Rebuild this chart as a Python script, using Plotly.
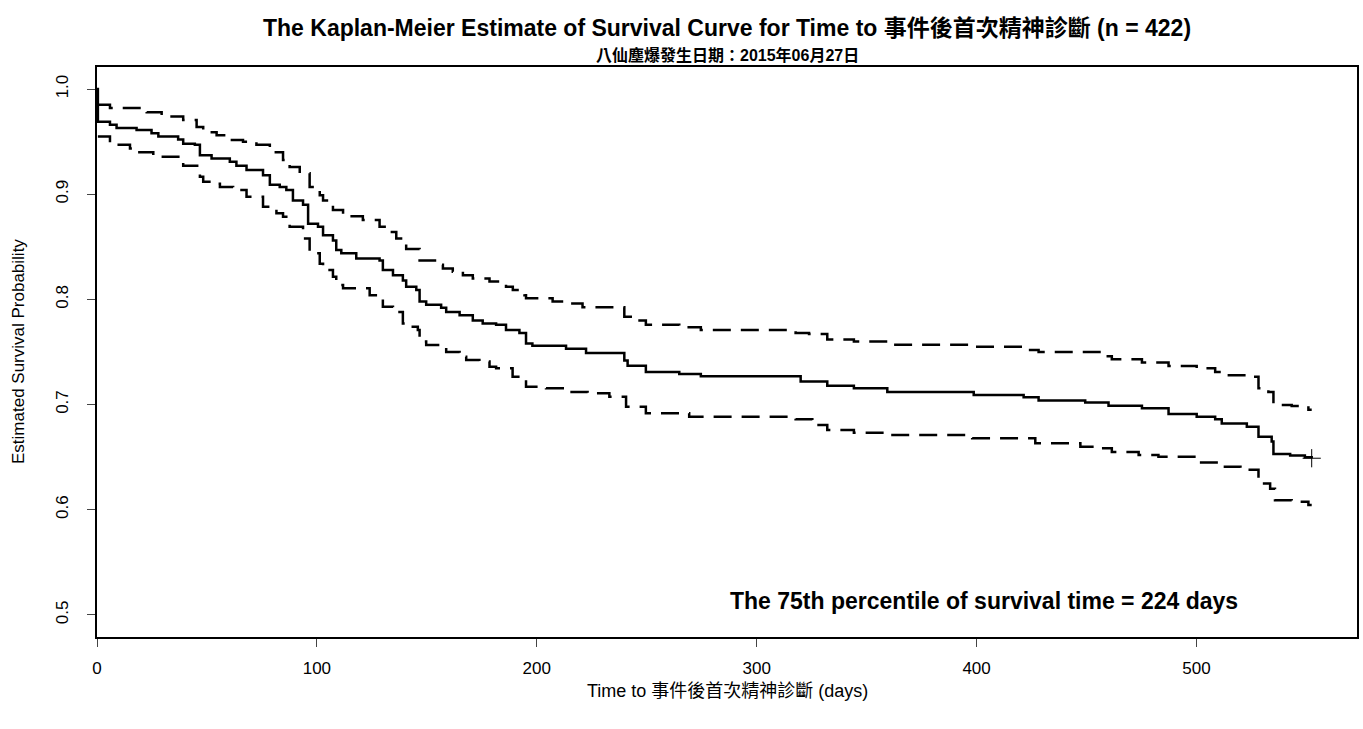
import plotly.graph_objects as go

# Kaplan-Meier estimate (step starts)
km_time = [0, 0.4, 5.9, 8.9, 18, 24.8, 27.9, 36.9, 39.2, 44.5, 46.8, 52.1, 60.4, 63.4, 68, 75.5, 78.6, 83.1, 86.1, 89.1,
           93.7, 96, 100.5, 102.8, 107.3, 108.8, 111.1, 117.9, 128.5, 130, 134.6, 139.1, 140.6, 145.2, 146.7, 149.7,
           156.5, 158.8, 164.9, 170.9, 175.4, 181.5, 186, 192.1, 195.1, 198, 213.3, 222.4, 239.8, 241.3, 249.6, 264.8,
           274.6, 320, 332.1, 344.2, 359.4, 398.7, 421.4, 428.2, 449.4, 460, 475.2, 487.3, 500.1, 508.5, 511.5, 522.9,
           528.2, 534.2, 535, 542.6, 549.3, 552.4]
km_surv = [1.0, 0.969, 0.966, 0.963, 0.961, 0.958, 0.955, 0.952, 0.948, 0.947, 0.937, 0.934, 0.931, 0.927, 0.923, 0.918,
           0.909, 0.907, 0.904, 0.894, 0.890, 0.872, 0.869, 0.861, 0.856, 0.847, 0.844, 0.839, 0.837, 0.828, 0.823,
           0.818, 0.812, 0.809, 0.798, 0.795, 0.792, 0.788, 0.785, 0.780, 0.777, 0.776, 0.771, 0.768, 0.758, 0.756,
           0.753, 0.749, 0.742, 0.737, 0.731, 0.729, 0.727, 0.722, 0.718, 0.7155, 0.712, 0.709, 0.707, 0.704, 0.702,
           0.699, 0.6965, 0.691, 0.6885, 0.686, 0.682, 0.679, 0.6695, 0.665, 0.653, 0.6515, 0.650, 0.649]

# Upper 95% confidence limit
upper_time = [0.4, 5.9, 22.6, 29.4, 39.2, 45.3, 48.3, 54.4, 60.4, 66.4, 72.5, 78.6, 84.6, 87.6, 92.2, 96.7, 101.3,
              102.8, 107.3, 111.9, 120.9, 128.5, 131.6, 136.1, 140.6, 146.7, 154.3, 157.3, 161.8, 166.4, 170.9, 178.5,
              186, 189.1, 194.4, 195.1, 207.2, 213.3, 220.8, 239.8, 245.8, 249.6, 264.8, 274.6, 317.7, 323.8, 332.1,
              344.2, 359.4, 398, 420.7, 428.2, 457, 461.5, 475.2, 487.3, 500.1, 508.5, 511.5, 522.9, 528.2, 532.7,
              535, 543.3, 550.9, 552.4]
upper_surv = [0.985, 0.982, 0.978, 0.974, 0.9705, 0.964, 0.959, 0.956, 0.9515, 0.950, 0.947, 0.940, 0.9325, 0.926,
              0.920, 0.907, 0.899, 0.894, 0.885, 0.879, 0.8755, 0.869, 0.864, 0.858, 0.848, 0.837, 0.833, 0.8295,
              0.8263, 0.823, 0.820, 0.817, 0.812, 0.809, 0.804, 0.801, 0.798, 0.796, 0.7925, 0.7835, 0.780, 0.776,
              0.7735, 0.771, 0.768, 0.767, 0.762, 0.760, 0.757, 0.755, 0.752, 0.750, 0.746, 0.743, 0.740, 0.7367,
              0.7345, 0.731, 0.728, 0.7265, 0.7155, 0.712, 0.6996, 0.6987, 0.695, 0.695]

# Lower 95% confidence limit
lower_time = [0.4, 5.9, 15, 18, 25.6, 39.2, 46.8, 48.3, 52.8, 55.9, 61.9, 68, 75.5, 81.6, 84.6, 87.6, 93.7, 96.7,
              101.3, 102.8, 107.3, 108.8, 111.9, 124, 128.5, 130, 134.6, 139.1, 142.1, 145.9, 146.7, 149.7, 158.8,
              164.9, 167.9, 173.9, 178.5, 181.5, 189, 195.1, 204.2, 213.3, 223.1, 233, 240.6, 249.6, 269.3, 317.7,
              325.3, 332.1, 344.2, 359.4, 398, 426.7, 447.2, 455.5, 461.5, 473.7, 482.7, 500, 510, 520, 528.2, 533.5,
              535.7, 543.3, 550.9, 552.4]
lower_surv = [0.955, 0.947, 0.9436, 0.940, 0.9357, 0.927, 0.9167, 0.912, 0.910, 0.907, 0.904, 0.8976, 0.888, 0.882,
              0.8786, 0.869, 0.858, 0.844, 0.834, 0.828, 0.8216, 0.8137, 0.8106, 0.804, 0.801, 0.793, 0.788, 0.777,
              0.774, 0.771, 0.760, 0.7567, 0.750, 0.7455, 0.7424, 0.741, 0.736, 0.7345, 0.7265, 0.717, 0.7155, 0.712,
              0.7107, 0.7075, 0.698, 0.6917, 0.6885, 0.686, 0.6806, 0.6759, 0.6733, 0.671, 0.668, 0.6632, 0.660,
              0.6584, 0.655, 0.652, 0.6505, 0.645, 0.641, 0.638, 0.625, 0.620, 0.609, 0.6077, 0.6046, 0.6046]

censor_time = [552.4]
censor_surv = [0.649]

x_ticks = [0, 100, 200, 300, 400, 500]
y_ticks = [0.5, 0.6, 0.7, 0.8, 0.9, 1.0]
y_tick_labels = ["0.5", "0.6", "0.7", "0.8", "0.9", "1.0"]

title_text = "The Kaplan-Meier Estimate of Survival Curve for Time to 事件後首次精神診斷 (n = 422)"
subtitle_text = "八仙塵爆發生日期：2015年06月27日"
x_title = "Time to 事件後首次精神診斷 (days)"
y_title = "Estimated Survival Probability"
note_text = "The 75th percentile of survival time = 224 days"

FONT = "Liberation Sans, Arial, Noto Sans CJK TC, sans-serif"

fig = go.Figure()
fig.add_trace(go.Scatter(x=upper_time, y=upper_surv, mode="lines", line_shape="hv",
                         line=dict(color="black", width=2.5, dash="18px,10px"), hoverinfo="skip"))
fig.add_trace(go.Scatter(x=lower_time, y=lower_surv, mode="lines", line_shape="hv",
                         line=dict(color="black", width=2.5, dash="18px,10px"), hoverinfo="skip"))
fig.add_trace(go.Scatter(x=km_time, y=km_surv, mode="lines", line_shape="hv",
                         line=dict(color="black", width=2.5)))
fig.add_trace(go.Scatter(x=censor_time, y=censor_surv, mode="markers",
                         marker=dict(symbol="cross-thin", size=13, line=dict(color="black", width=1))))

fig.update_layout(
    width=1363, height=729,
    margin=dict(l=97, r=4, t=67, b=92),
    plot_bgcolor="white", paper_bgcolor="white",
    showlegend=False,
    font=dict(family=FONT, color="black", size=14),
    xaxis=dict(range=[0, 573], tickvals=x_ticks, ticks="outside", ticklen=8, tickwidth=1.2,
               showline=True, linecolor="black", linewidth=1.5, mirror=True, showgrid=False, zeroline=False,
               tickfont=dict(size=17), ticklabelstandoff=7),
    yaxis=dict(range=[0.479, 1.021], tickvals=y_ticks, ticktext=y_tick_labels, ticks="outside", ticklen=8,
               tickwidth=1.2, tickangle=-90, showline=True, linecolor="black", linewidth=1.5, mirror=True,
               showgrid=False, zeroline=False, tickfont=dict(size=17), ticklabelstandoff=12),
)

fig.add_annotation(text="<b>" + title_text + "</b>", xref="paper", yref="paper", x=0.5, y=1, yshift=39,
                   xanchor="center", yanchor="middle", showarrow=False, font=dict(size=23))
fig.add_annotation(text="<b>" + subtitle_text + "</b>", xref="paper", yref="paper", x=0.5, y=1, yshift=12,
                   xanchor="center", yanchor="middle", showarrow=False, font=dict(size=16))
fig.add_annotation(text=x_title, xref="paper", yref="paper", x=0.5, y=0, yshift=-54,
                   xanchor="center", yanchor="middle", showarrow=False, font=dict(size=18))
fig.add_annotation(text=y_title, xref="paper", yref="paper", x=0, xshift=-79, y=0.5,
                   xanchor="center", yanchor="middle", showarrow=False, textangle=-90, font=dict(size=17))
fig.add_annotation(text="<b>" + note_text + "</b>", xref="x", yref="y", x=403.5, y=0.513,
                   xanchor="center", yanchor="middle", showarrow=False, font=dict(size=23))

fig.write_html("out.html")
